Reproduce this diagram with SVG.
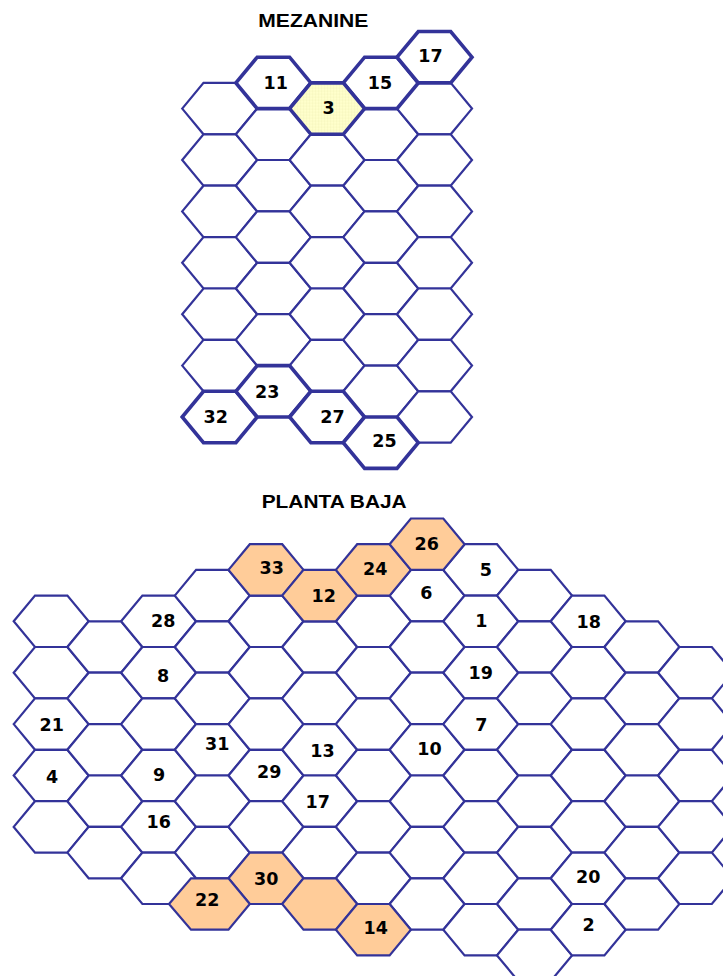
<svg xmlns="http://www.w3.org/2000/svg" xmlns:xlink="http://www.w3.org/1999/xlink" width="723" height="976" viewBox="0 0 723 976">
<style>
.t{fill:#fff;stroke:#333399;stroke-width:2.2;stroke-linejoin:miter}
.k{stroke-width:3.6}
.o{fill:#ffcc99}
.y{fill:url(#grid)}
.n{font-family:"DejaVu Sans","Liberation Sans",sans-serif;font-weight:bold;font-size:17.5px;text-anchor:middle;fill:#000}
.h{font-family:"Liberation Sans",Arial,sans-serif;font-weight:bold;font-size:17.8px;fill:#000}
</style>
<defs>
<polygon id="h" points="-37.5,0 -16.2,-25.7 16.2,-25.7 37.5,0 16.2,25.7 -16.2,25.7"/>
<pattern id="grid" width="3" height="3" patternUnits="userSpaceOnUse"><rect width="3" height="3" fill="#ffffcc"/><path d="M0 0H3M0 0V3" stroke="#eeeeb0" stroke-width="0.6"/></pattern>
</defs>
<rect width="723" height="976" fill="#fff"/>
<text class="h" x="258.3" y="26.7" textLength="110" lengthAdjust="spacingAndGlyphs">MEZANINE</text>
<text class="h" x="261.7" y="507.7" textLength="145" lengthAdjust="spacingAndGlyphs">PLANTA BAJA</text>

<g id="mezanine">
<g id="m-c0-1"><use href="#h" class="t" x="219.7" y="108.6"/></g>
<g id="m-c0-2"><use href="#h" class="t" x="219.7" y="160"/></g>
<g id="m-c0-3"><use href="#h" class="t" x="219.7" y="211.4"/></g>
<g id="m-c0-4"><use href="#h" class="t" x="219.7" y="262.8"/></g>
<g id="m-c0-5"><use href="#h" class="t" x="219.7" y="314.2"/></g>
<g id="m-c0-6"><use href="#h" class="t" x="219.7" y="365.6"/></g>
<g id="m-c1-2"><use href="#h" class="t" x="273.4" y="134.3"/></g>
<g id="m-c1-3"><use href="#h" class="t" x="273.4" y="185.7"/></g>
<g id="m-c1-4"><use href="#h" class="t" x="273.4" y="237.1"/></g>
<g id="m-c1-5"><use href="#h" class="t" x="273.4" y="288.5"/></g>
<g id="m-c1-6"><use href="#h" class="t" x="273.4" y="339.9"/></g>
<g id="m-c2-2"><use href="#h" class="t" x="327.1" y="160"/></g>
<g id="m-c2-3"><use href="#h" class="t" x="327.1" y="211.4"/></g>
<g id="m-c2-4"><use href="#h" class="t" x="327.1" y="262.8"/></g>
<g id="m-c2-5"><use href="#h" class="t" x="327.1" y="314.2"/></g>
<g id="m-c2-6"><use href="#h" class="t" x="327.1" y="365.6"/></g>
<g id="m-c3-2"><use href="#h" class="t" x="380.8" y="134.3"/></g>
<g id="m-c3-3"><use href="#h" class="t" x="380.8" y="185.7"/></g>
<g id="m-c3-4"><use href="#h" class="t" x="380.8" y="237.1"/></g>
<g id="m-c3-5"><use href="#h" class="t" x="380.8" y="288.5"/></g>
<g id="m-c3-6"><use href="#h" class="t" x="380.8" y="339.9"/></g>
<g id="m-c3-7"><use href="#h" class="t" x="380.8" y="391.3"/></g>
<g id="m-c4-2"><use href="#h" class="t" x="434.5" y="108.6"/></g>
<g id="m-c4-3"><use href="#h" class="t" x="434.5" y="160"/></g>
<g id="m-c4-4"><use href="#h" class="t" x="434.5" y="211.4"/></g>
<g id="m-c4-5"><use href="#h" class="t" x="434.5" y="262.8"/></g>
<g id="m-c4-6"><use href="#h" class="t" x="434.5" y="314.2"/></g>
<g id="m-c4-7"><use href="#h" class="t" x="434.5" y="365.6"/></g>
<g id="m-c4-8"><use href="#h" class="t" x="434.5" y="417"/></g>
<g id="m-11"><use href="#h" class="t k" x="273.4" y="82.9"/><text class="n" x="275.8" y="89.4">11</text></g>
<g id="m-15"><use href="#h" class="t k" x="380.8" y="82.9"/><text class="n" x="380" y="89.4">15</text></g>
<g id="m-17"><use href="#h" class="t k" x="434.5" y="57.2"/><text class="n" x="430.5" y="61.9">17</text></g>
<g id="m-3"><use href="#h" class="t k y" x="327.1" y="108.6"/><text class="n" x="328.7" y="113.6">3</text></g>
<g id="m-32"><use href="#h" class="t k" x="219.7" y="417"/><text class="n" x="215.8" y="423.4">32</text></g>
<g id="m-23"><use href="#h" class="t k" x="273.4" y="391.3"/><text class="n" x="267.2" y="398.4">23</text></g>
<g id="m-27"><use href="#h" class="t k" x="327.1" y="417"/><text class="n" x="332.5" y="422.7">27</text></g>
<g id="m-25"><use href="#h" class="t k" x="380.8" y="442.7"/><text class="n" x="384.5" y="446.7">25</text></g>
</g>

<g id="planta-baja">
<g id="b-c0-1"><use href="#h" class="t" x="51.2" y="621.3"/></g>
<g id="b-c0-2"><use href="#h" class="t" x="51.2" y="672.7"/></g>
<g id="b-21"><use href="#h" class="t" x="51.2" y="724.1"/><text class="n" x="51.8" y="730.9">21</text></g>
<g id="b-4"><use href="#h" class="t" x="51.2" y="775.5"/><text class="n" x="52" y="782.6">4</text></g>
<g id="b-c0-5"><use href="#h" class="t" x="51.2" y="826.9"/></g>

<g id="b-c1-1"><use href="#h" class="t" x="104.9" y="647"/></g>
<g id="b-c1-2"><use href="#h" class="t" x="104.9" y="698.4"/></g>
<g id="b-c1-3"><use href="#h" class="t" x="104.9" y="749.8"/></g>
<g id="b-c1-4"><use href="#h" class="t" x="104.9" y="801.2"/></g>
<g id="b-c1-5"><use href="#h" class="t" x="104.9" y="852.6"/></g>

<g id="b-28"><use href="#h" class="t" x="158.6" y="621.3"/><text class="n" x="163.3" y="626.9">28</text></g>
<g id="b-8"><use href="#h" class="t" x="158.6" y="672.7"/><text class="n" x="163" y="681.9">8</text></g>
<g id="b-c2-3"><use href="#h" class="t" x="158.6" y="724.1"/></g>
<g id="b-9"><use href="#h" class="t" x="158.6" y="775.5"/><text class="n" x="159.2" y="781.2">9</text></g>
<g id="b-16"><use href="#h" class="t" x="158.6" y="826.9"/><text class="n" x="158.8" y="827.6">16</text></g>
<g id="b-c2-6"><use href="#h" class="t" x="158.6" y="878.3"/></g>

<g id="b-c3-1"><use href="#h" class="t" x="212.3" y="595.6"/></g>
<g id="b-c3-2"><use href="#h" class="t" x="212.3" y="647"/></g>
<g id="b-c3-3"><use href="#h" class="t" x="212.3" y="698.4"/></g>
<g id="b-31"><use href="#h" class="t" x="212.3" y="749.8"/><text class="n" x="217.2" y="749.7">31</text></g>
<g id="b-c3-5"><use href="#h" class="t" x="212.3" y="801.2"/></g>
<g id="b-c3-6"><use href="#h" class="t" x="212.3" y="852.6"/></g>

<g id="b-c4-2"><use href="#h" class="t" x="266" y="621.3"/></g>
<g id="b-c4-3"><use href="#h" class="t" x="266" y="672.7"/></g>
<g id="b-c4-4"><use href="#h" class="t" x="266" y="724.1"/></g>
<g id="b-29"><use href="#h" class="t" x="266" y="775.5"/><text class="n" x="269.2" y="777.6">29</text></g>
<g id="b-c4-6"><use href="#h" class="t" x="266" y="826.9"/></g>

<g id="b-c5-2"><use href="#h" class="t" x="319.7" y="647"/></g>
<g id="b-c5-3"><use href="#h" class="t" x="319.7" y="698.4"/></g>
<g id="b-13"><use href="#h" class="t" x="319.7" y="749.8"/><text class="n" x="322.5" y="756.9">13</text></g>
<g id="b-17"><use href="#h" class="t" x="319.7" y="801.2"/><text class="n" x="317.8" y="807.6">17</text></g>
<g id="b-c5-6"><use href="#h" class="t" x="319.7" y="852.6"/></g>

<g id="b-c6-2"><use href="#h" class="t" x="373.4" y="621.3"/></g>
<g id="b-c6-3"><use href="#h" class="t" x="373.4" y="672.7"/></g>
<g id="b-c6-4"><use href="#h" class="t" x="373.4" y="724.1"/></g>
<g id="b-c6-5"><use href="#h" class="t" x="373.4" y="775.5"/></g>
<g id="b-c6-6"><use href="#h" class="t" x="373.4" y="826.9"/></g>
<g id="b-c6-7"><use href="#h" class="t" x="373.4" y="878.3"/></g>

<g id="b-6"><use href="#h" class="t" x="427.1" y="595.6"/><text class="n" x="426.3" y="598.6">6</text></g>
<g id="b-c7-3"><use href="#h" class="t" x="427.1" y="647"/></g>
<g id="b-c7-4"><use href="#h" class="t" x="427.1" y="698.4"/></g>
<g id="b-10"><use href="#h" class="t" x="427.1" y="749.8"/><text class="n" x="429.5" y="755.2">10</text></g>
<g id="b-c7-6"><use href="#h" class="t" x="427.1" y="801.2"/></g>
<g id="b-c7-7"><use href="#h" class="t" x="427.1" y="852.6"/></g>
<g id="b-c7-8"><use href="#h" class="t" x="427.1" y="904"/></g>

<g id="b-5"><use href="#h" class="t" x="480.8" y="569.9"/><text class="n" x="485.8" y="575.6">5</text></g>
<g id="b-1"><use href="#h" class="t" x="480.8" y="621.3"/><text class="n" x="481.3" y="626.7">1</text></g>
<g id="b-19"><use href="#h" class="t" x="480.8" y="672.7"/><text class="n" x="480.7" y="679.2">19</text></g>
<g id="b-7"><use href="#h" class="t" x="480.8" y="724.1"/><text class="n" x="481.3" y="731.4">7</text></g>
<g id="b-c8-5"><use href="#h" class="t" x="480.8" y="775.5"/></g>
<g id="b-c8-6"><use href="#h" class="t" x="480.8" y="826.9"/></g>
<g id="b-c8-7"><use href="#h" class="t" x="480.8" y="878.3"/></g>
<g id="b-c8-8"><use href="#h" class="t" x="480.8" y="929.7"/></g>

<g id="b-c9-1"><use href="#h" class="t" x="534.5" y="595.6"/></g>
<g id="b-c9-2"><use href="#h" class="t" x="534.5" y="647"/></g>
<g id="b-c9-3"><use href="#h" class="t" x="534.5" y="698.4"/></g>
<g id="b-c9-4"><use href="#h" class="t" x="534.5" y="749.8"/></g>
<g id="b-c9-5"><use href="#h" class="t" x="534.5" y="801.2"/></g>
<g id="b-c9-6"><use href="#h" class="t" x="534.5" y="852.6"/></g>
<g id="b-c9-7"><use href="#h" class="t" x="534.5" y="904"/></g>
<g id="b-c9-8"><use href="#h" class="t" x="534.5" y="955.4"/></g>

<g id="b-18"><use href="#h" class="t" x="588.2" y="621.3"/><text class="n" x="588.7" y="628.1">18</text></g>
<g id="b-c10-2"><use href="#h" class="t" x="588.2" y="672.7"/></g>
<g id="b-c10-3"><use href="#h" class="t" x="588.2" y="724.1"/></g>
<g id="b-c10-4"><use href="#h" class="t" x="588.2" y="775.5"/></g>
<g id="b-c10-5"><use href="#h" class="t" x="588.2" y="826.9"/></g>
<g id="b-20"><use href="#h" class="t" x="588.2" y="878.3"/><text class="n" x="588.3" y="882.7">20</text></g>
<g id="b-2"><use href="#h" class="t" x="588.2" y="929.7"/><text class="n" x="588.5" y="930.9">2</text></g>

<g id="b-c11-1"><use href="#h" class="t" x="641.9" y="647"/></g>
<g id="b-c11-2"><use href="#h" class="t" x="641.9" y="698.4"/></g>
<g id="b-c11-3"><use href="#h" class="t" x="641.9" y="749.8"/></g>
<g id="b-c11-4"><use href="#h" class="t" x="641.9" y="801.2"/></g>
<g id="b-c11-5"><use href="#h" class="t" x="641.9" y="852.6"/></g>
<g id="b-c11-6"><use href="#h" class="t" x="641.9" y="904"/></g>

<g id="b-c12-1"><use href="#h" class="t" x="695.6" y="672.7"/></g>
<g id="b-c12-2"><use href="#h" class="t" x="695.6" y="724.1"/></g>
<g id="b-c12-3"><use href="#h" class="t" x="695.6" y="775.5"/></g>
<g id="b-c12-4"><use href="#h" class="t" x="695.6" y="826.9"/></g>
<g id="b-c12-5"><use href="#h" class="t" x="695.6" y="878.3"/></g>

<g id="b-33"><use href="#h" class="t o" x="266" y="569.9"/><text class="n" x="271.7" y="574.4">33</text></g>
<g id="b-12"><use href="#h" class="t o" x="319.7" y="595.6"/><text class="n" x="323.8" y="602.2">12</text></g>
<g id="b-24"><use href="#h" class="t o" x="373.4" y="569.9"/><text class="n" x="375.3" y="575.2">24</text></g>
<g id="b-26"><use href="#h" class="t o" x="427.1" y="544.2"/><text class="n" x="426.7" y="550.2">26</text></g>
<g id="b-30"><use href="#h" class="t o" x="266" y="878.3"/><text class="n" x="266.3" y="884.9">30</text></g>
<g id="b-c5-7"><use href="#h" class="t o" x="319.7" y="904"/></g>
<g id="b-14"><use href="#h" class="t o" x="373.4" y="929.7"/><text class="n" x="375.8" y="934.2">14</text></g>
<g id="b-22"><polygon class="t o" points="169,904 191,878.3 228.5,878.3 249.8,904 228.5,929.7 191,929.7"/><text class="n" x="207.3" y="906.4">22</text></g>
</g>
</svg>
